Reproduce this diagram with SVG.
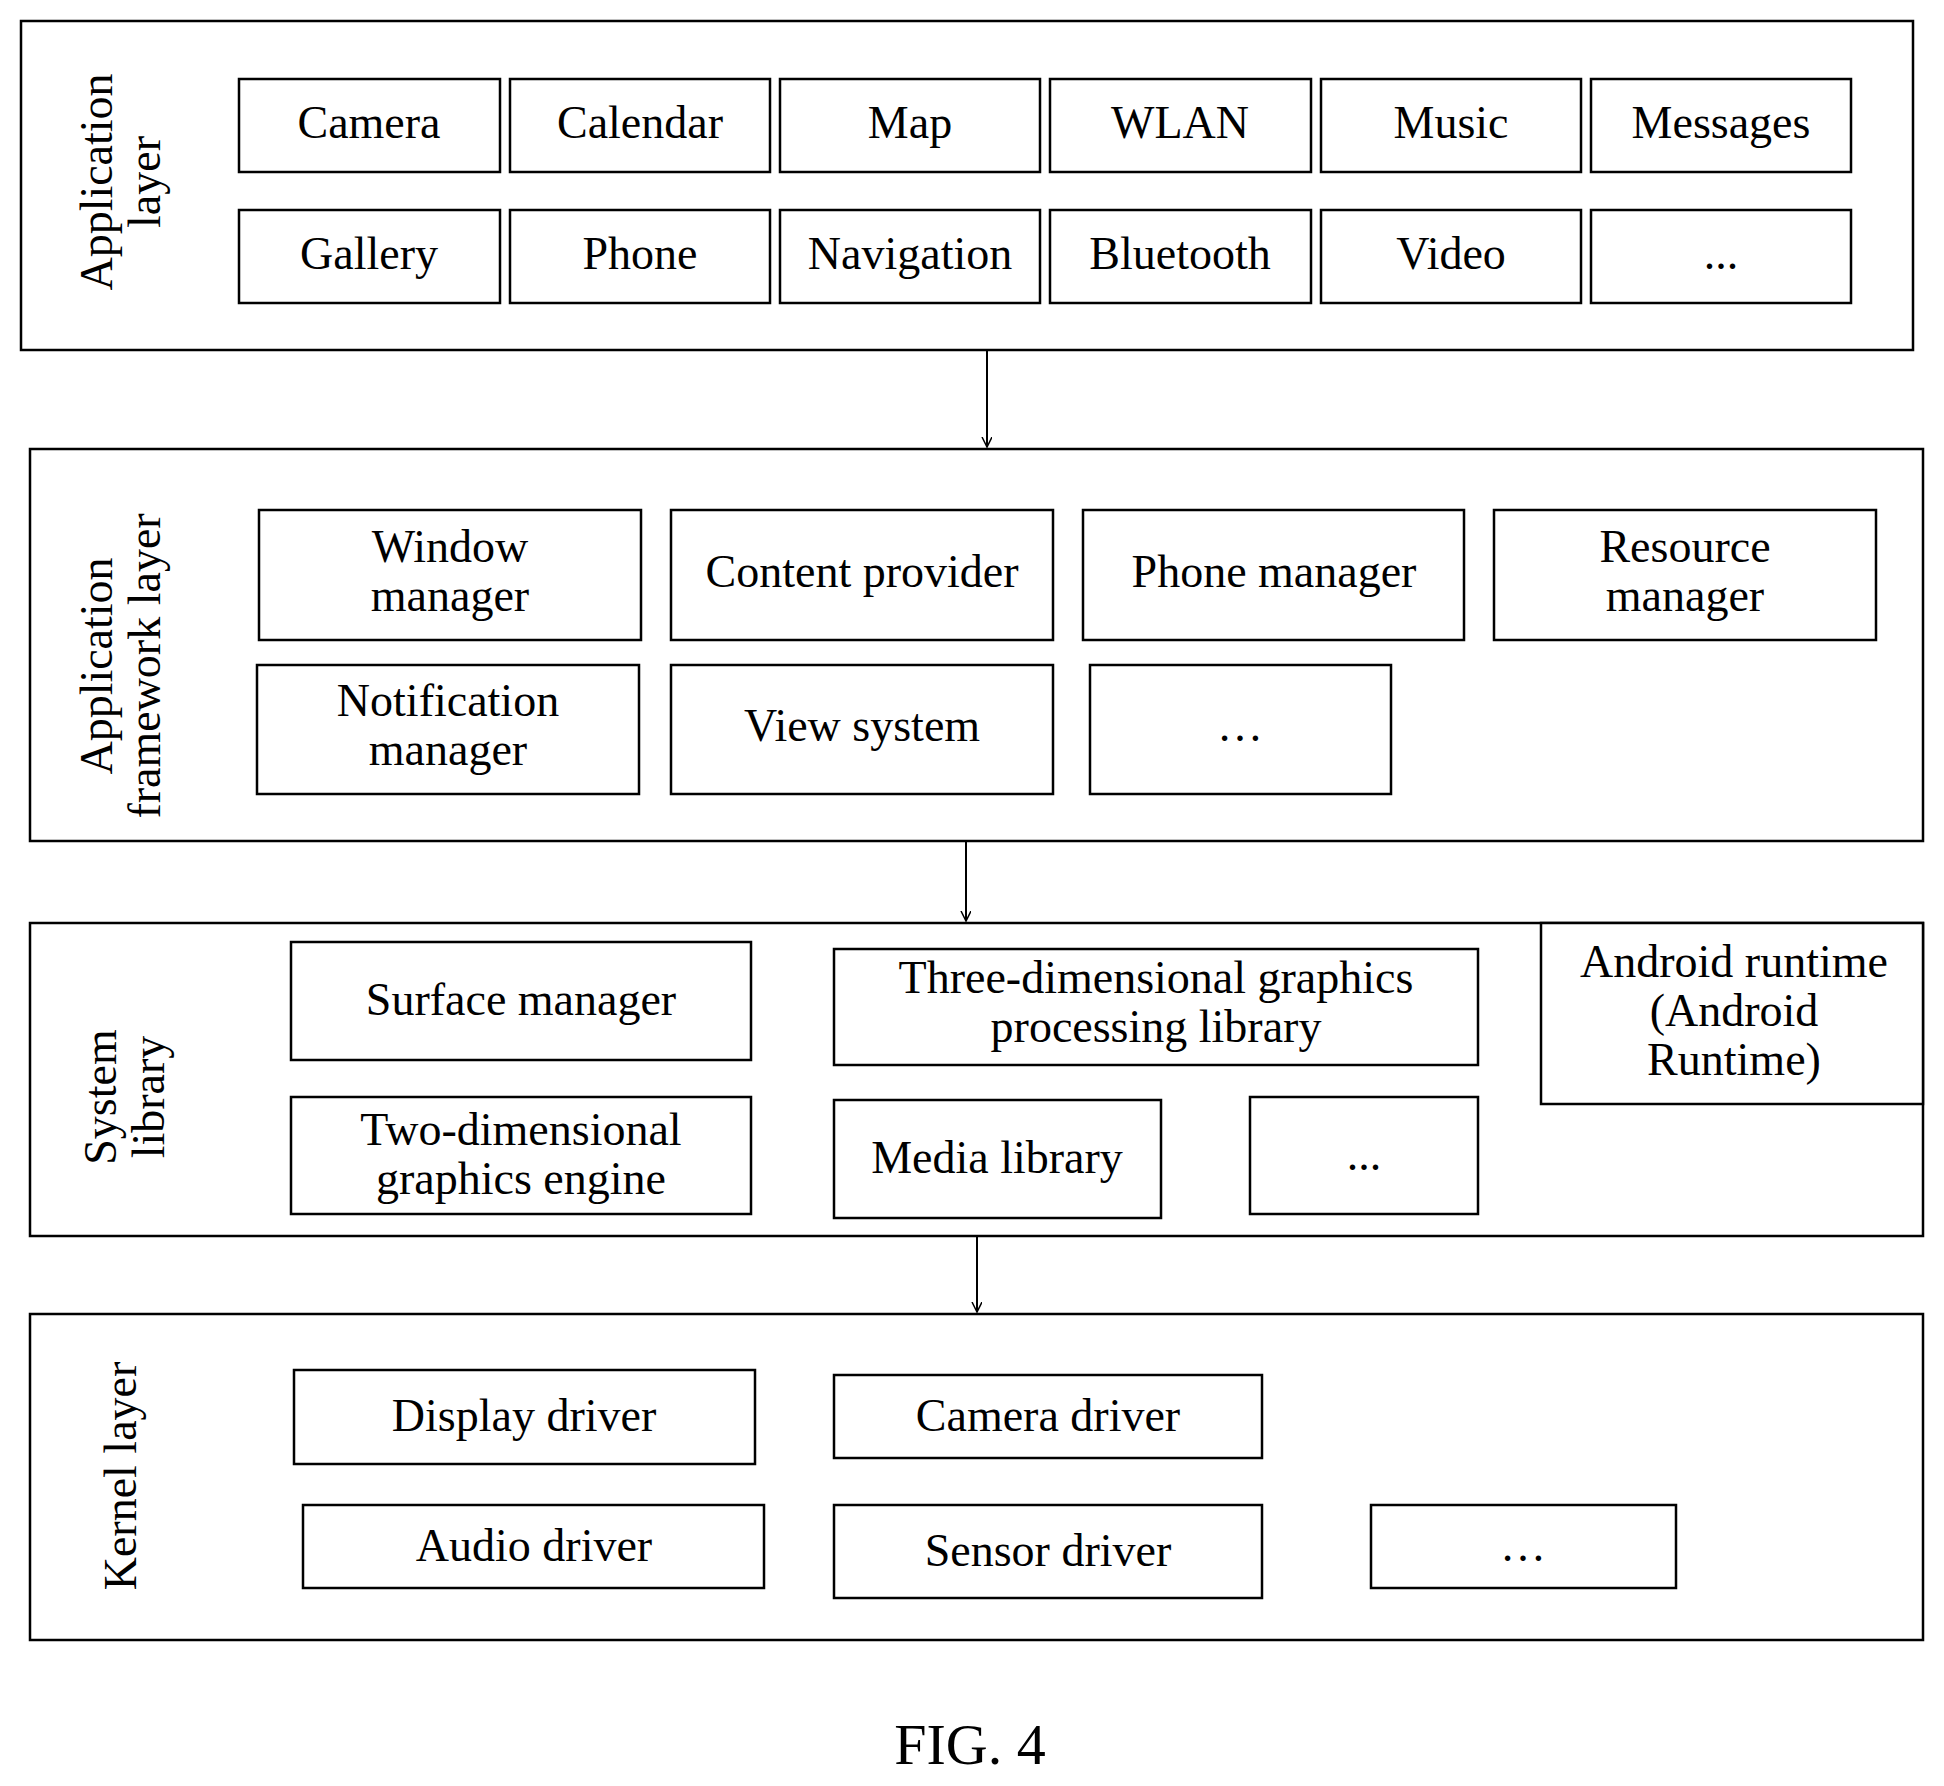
<svg xmlns="http://www.w3.org/2000/svg" width="1944" height="1786" viewBox="0 0 1944 1786">
<style>
rect{fill:#fff;stroke:#000;stroke-width:2.5}
text{font-family:"Liberation Serif",serif;font-size:46px;text-anchor:middle;fill:#000}
.c line{stroke:#000;stroke-width:2}
</style>
<defs><marker id="a" markerWidth="12" markerHeight="12" refX="10" refY="5" orient="auto" markerUnits="userSpaceOnUse"><path d="M0,0 L10,5 L0,10" fill="none" stroke="#000" stroke-width="1.5"/></marker></defs>
<rect width="1944" height="1786" style="stroke:none"/>
<g id="app"><rect x="21" y="21" width="1892" height="329"/>
<text transform="translate(120,182) rotate(-90)"><tspan x="0" y="-8">Application</tspan><tspan x="0" y="40">layer</tspan></text>
<rect x="239" y="79" width="261" height="93"/><text x="369" y="138">Camera</text>
<rect x="510" y="79" width="260" height="93"/><text x="640" y="138">Calendar</text>
<rect x="780" y="79" width="260" height="93"/><text x="910" y="138">Map</text>
<rect x="1050" y="79" width="261" height="93"/><text x="1180" y="138">WLAN</text>
<rect x="1321" y="79" width="260" height="93"/><text x="1451" y="138">Music</text>
<rect x="1591" y="79" width="260" height="93"/><text x="1721" y="138">Messages</text>
<rect x="239" y="210" width="261" height="93"/><text x="369" y="269">Gallery</text>
<rect x="510" y="210" width="260" height="93"/><text x="640" y="269">Phone</text>
<rect x="780" y="210" width="260" height="93"/><text x="910" y="269">Navigation</text>
<rect x="1050" y="210" width="261" height="93"/><text x="1180" y="269">Bluetooth</text>
<rect x="1321" y="210" width="260" height="93"/><text x="1451" y="269">Video</text>
<rect x="1591" y="210" width="260" height="93"/><text x="1721" y="269">...</text>
</g>
<g id="fw"><rect x="30" y="449" width="1893" height="392"/>
<text transform="translate(120,666) rotate(-90)"><tspan x="0" y="-8">Application</tspan><tspan x="0" y="40">framework layer</tspan></text>
<rect x="259" y="510" width="382" height="130"/><text x="450" y="562">Window</text><text x="450" y="611">manager</text>
<rect x="671" y="510" width="382" height="130"/><text x="862" y="587">Content provider</text>
<rect x="1083" y="510" width="381" height="130"/><text x="1274" y="587">Phone manager</text>
<rect x="1494" y="510" width="382" height="130"/><text x="1685" y="562">Resource</text><text x="1685" y="611">manager</text>
<rect x="257" y="665" width="382" height="129"/><text x="448" y="716">Notification</text><text x="448" y="765">manager</text>
<rect x="671" y="665" width="382" height="129"/><text x="862" y="741">View system</text>
<rect x="1090" y="665" width="301" height="129"/><text x="1240" y="741">…</text>
</g>
<g id="sys"><rect x="30" y="923" width="1893" height="313"/>
<text transform="translate(124,1097) rotate(-90)"><tspan x="0" y="-8">System</tspan><tspan x="0" y="40">library</tspan></text>
<rect x="291" y="942" width="460" height="118"/><text x="521" y="1015">Surface manager</text>
<rect x="834" y="949" width="644" height="116"/><text x="1156" y="993">Three-dimensional graphics</text><text x="1156" y="1042">processing library</text>
<rect x="1541" y="923" width="382" height="181"/><text x="1734" y="977">Android runtime</text><text x="1734" y="1026">(Android</text><text x="1734" y="1075">Runtime)</text>
<rect x="291" y="1097" width="460" height="117"/><text x="521" y="1145">Two-dimensional</text><text x="521" y="1194">graphics engine</text>
<rect x="834" y="1100" width="327" height="118"/><text x="997" y="1173">Media library</text>
<rect x="1250" y="1097" width="228" height="117"/><text x="1364" y="1170">...</text>
</g>
<g id="kernel"><rect x="30" y="1314" width="1893" height="326"/>
<text transform="translate(120,1476) rotate(-90)" y="16">Kernel layer</text>
<rect x="294" y="1370" width="461" height="94"/><text x="524" y="1431">Display driver</text>
<rect x="834" y="1375" width="428" height="83"/><text x="1048" y="1431">Camera driver</text>
<rect x="303" y="1505" width="461" height="83"/><text x="534" y="1561">Audio driver</text>
<rect x="834" y="1505" width="428" height="93"/><text x="1048" y="1566">Sensor driver</text>
<rect x="1371" y="1505" width="305" height="83"/><text x="1523" y="1561">…</text>
</g>
<g class="c">
<line x1="987" y1="351" x2="987" y2="447" marker-end="url(#a)"/>
<line x1="966" y1="842" x2="966" y2="921" marker-end="url(#a)"/>
<line x1="977" y1="1237" x2="977" y2="1312" marker-end="url(#a)"/>
</g>
<text x="970" y="1764" style="font-size:58px">FIG. 4</text>
</svg>
